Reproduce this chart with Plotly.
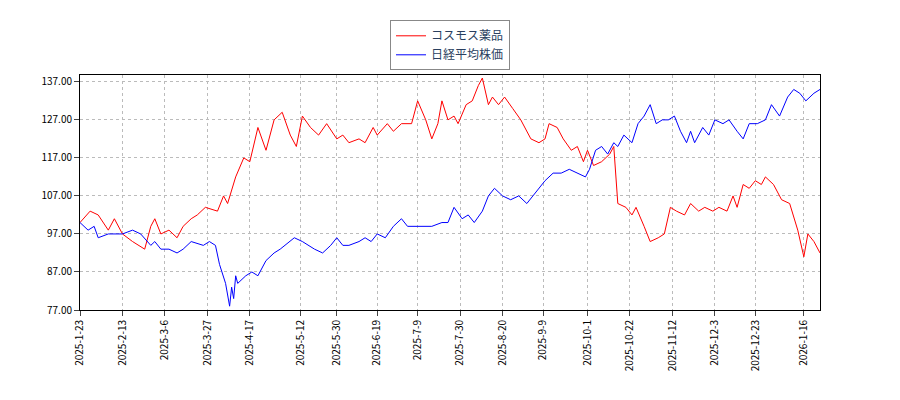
import plotly.graph_objects as go
import pandas as pd

red_dates = ["2025-01-23","2025-01-28","2025-02-01","2025-02-06","2025-02-09","2025-02-13","2025-02-18","2025-02-24","2025-02-27","2025-03-01","2025-03-04","2025-03-08","2025-03-12","2025-03-15","2025-03-19","2025-03-22","2025-03-26","2025-04-01","2025-04-04","2025-04-06","2025-04-10","2025-04-14","2025-04-17","2025-04-21","2025-04-25","2025-04-29","2025-05-03","2025-05-07","2025-05-10","2025-05-13","2025-05-17","2025-05-21","2025-05-25","2025-05-30","2025-06-02","2025-06-05","2025-06-10","2025-06-13","2025-06-17","2025-06-19","2025-06-24","2025-06-27","2025-07-01","2025-07-06","2025-07-09","2025-07-13","2025-07-16","2025-07-19","2025-07-21","2025-07-24","2025-07-27","2025-07-29","2025-08-02","2025-08-05","2025-08-08","2025-08-10","2025-08-13","2025-08-15","2025-08-18","2025-08-21","2025-08-25","2025-08-29","2025-09-03","2025-09-07","2025-09-10","2025-09-12","2025-09-16","2025-09-19","2025-09-23","2025-09-26","2025-09-29","2025-10-01","2025-10-04","2025-10-08","2025-10-12","2025-10-14","2025-10-16","2025-10-20","2025-10-23","2025-10-25","2025-10-29","2025-11-01","2025-11-05","2025-11-08","2025-11-11","2025-11-14","2025-11-18","2025-11-21","2025-11-25","2025-11-28","2025-12-02","2025-12-05","2025-12-09","2025-12-12","2025-12-14","2025-12-17","2025-12-20","2025-12-23","2025-12-26","2025-12-28","2026-01-01","2026-01-05","2026-01-09","2026-01-13","2026-01-16","2026-01-18","2026-01-21","2026-01-24"]
red_vals = [100,103,102,98,101,97,95,93,99,101,97,98,96,99,101,102,104,103,107,105,112,117,116,125,119,127,129,123,120,128,125,123,126,122,123,121,122,121,125,123,126,124,126,126,132,127,122,126,132,127,128,126,131,132,136,138,131,133,131,133,130,127,122,121,122,126,125,122,119,120,116,119,115,116,118,120,105,104,102,104,99,95,96,97,104,103,102,105,103,104,103,104,103,107,104,110,109,111,110,112,110,106,105,98,91,97,95,92]

blue_dates = ["2025-01-23","2025-01-27","2025-01-30","2025-02-01","2025-02-06","2025-02-13","2025-02-18","2025-02-22","2025-02-27","2025-03-01","2025-03-04","2025-03-08","2025-03-12","2025-03-15","2025-03-19","2025-03-25","2025-03-28","2025-03-31","2025-04-02","2025-04-05","2025-04-07","2025-04-08","2025-04-09","2025-04-10","2025-04-11","2025-04-15","2025-04-18","2025-04-21","2025-04-25","2025-04-29","2025-05-02","2025-05-09","2025-05-13","2025-05-19","2025-05-23","2025-05-27","2025-05-30","2025-06-02","2025-06-05","2025-06-10","2025-06-13","2025-06-16","2025-06-19","2025-06-23","2025-06-27","2025-07-01","2025-07-04","2025-07-09","2025-07-13","2025-07-16","2025-07-21","2025-07-24","2025-07-27","2025-07-31","2025-08-03","2025-08-06","2025-08-10","2025-08-13","2025-08-16","2025-08-20","2025-08-24","2025-08-28","2025-09-01","2025-09-04","2025-09-07","2025-09-10","2025-09-14","2025-09-18","2025-09-22","2025-09-26","2025-09-30","2025-10-02","2025-10-05","2025-10-08","2025-10-11","2025-10-14","2025-10-16","2025-10-19","2025-10-23","2025-10-26","2025-10-29","2025-11-01","2025-11-04","2025-11-07","2025-11-10","2025-11-13","2025-11-16","2025-11-19","2025-11-21","2025-11-23","2025-11-27","2025-11-30","2025-12-03","2025-12-07","2025-12-10","2025-12-14","2025-12-17","2025-12-20","2025-12-24","2025-12-28","2025-12-31","2026-01-04","2026-01-08","2026-01-11","2026-01-14","2026-01-17","2026-01-21","2026-01-24"]
blue_vals = [100,98,99,96,97,97,98,97,94,95,93,93,92,93,95,94,95,94,89,84,78,83,80,86,84,86,87,86,90,92,93,96,95,93,92,94,96,94,94,95,96,95,97,96,99,101,99,99,99,99,100,100,104,101,102,100,103,107,109,107,106,107,105,107,109,111,113,113,114,113,112,114,119,120,118,121,120,123,121,126,128,131,126,127,127,128,124,121,124,121,125,123,127,126,127,124,122,126,126,127,131,128,133,135,134,132,134,135]

tick_dates = ["2025-01-23","2025-02-13","2025-03-06","2025-03-27","2025-04-17","2025-05-12","2025-05-30","2025-06-19","2025-07-09","2025-07-30","2025-08-20","2025-09-09","2025-10-01","2025-10-22","2025-11-12","2025-12-03","2025-12-23","2026-01-16"]
tick_text = [f"{int(d[:4])}-{int(d[5:7])}-{int(d[8:])}" for d in tick_dates]
yticks = [77, 87, 97, 107, 117, 127, 137]

fig = go.Figure()
fig.add_trace(go.Scatter(x=red_dates, y=red_vals, mode="lines", name="コスモス薬品",
                         line=dict(color="#ff0000", width=1)))
fig.add_trace(go.Scatter(x=blue_dates, y=blue_vals, mode="lines", name="日経平均株価",
                         line=dict(color="#0000ff", width=1)))
axis_common = dict(showline=True, linecolor="#000", mirror=True, ticks="outside",
                   gridcolor="#bbb", griddash="dot", zeroline=False,
                   tickfont=dict(size=10, color="#000"))
fig.update_layout(
    width=900, height=400, plot_bgcolor="white", paper_bgcolor="white",
    margin=dict(l=72, r=88, t=62, b=98),
    font=dict(family="Noto Sans CJK JP"),
    legend=dict(x=0.5, y=1.02, xanchor="center", yanchor="bottom",
                bordercolor="#888", borderwidth=1, font=dict(size=12)),
    xaxis=dict(range=["2025-01-23", "2026-01-24"], tickvals=tick_dates, ticktext=tick_text,
               tickangle=-90, **axis_common),
    yaxis=dict(range=[77, 138.8], tickvals=yticks, ticktext=[f"{v:.2f}" for v in yticks],
               **axis_common),
)
fig.write_html("out.html")
